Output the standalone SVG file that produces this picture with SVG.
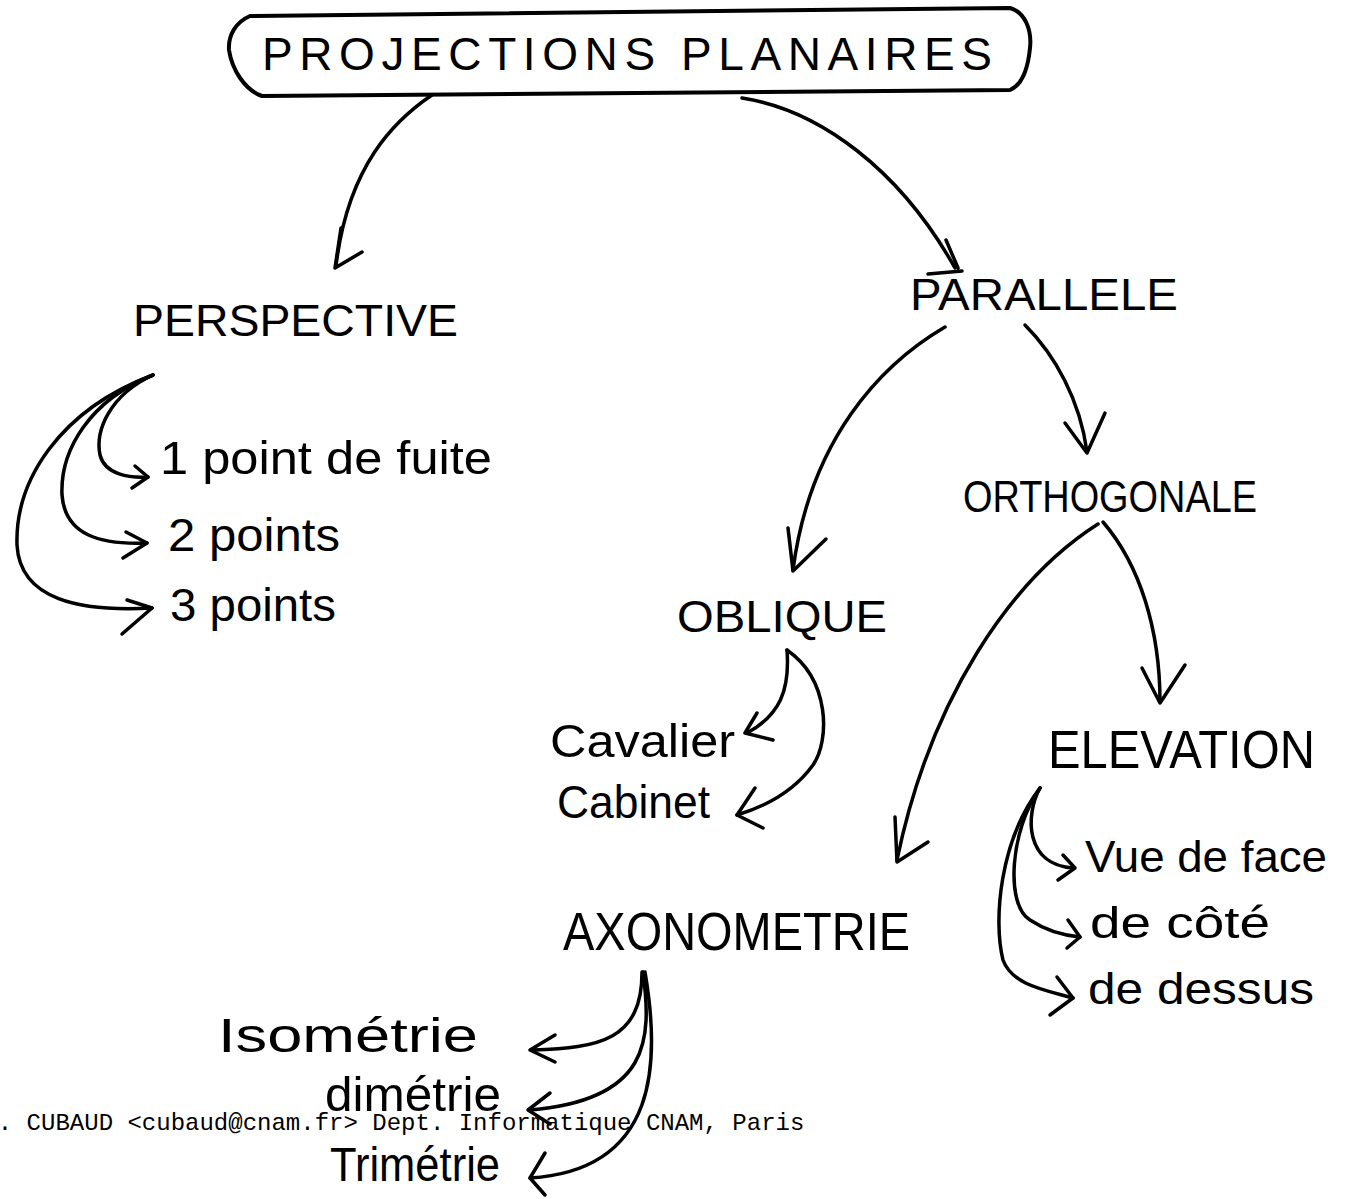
<svg xmlns="http://www.w3.org/2000/svg" width="1345" height="1199" viewBox="0 0 1345 1199">
<style>
.bg{fill:#fff}
.hand{font-family:"Liberation Sans","DejaVu Sans",sans-serif;fill:#000}
.mono{font-family:"Liberation Mono","DejaVu Sans Mono",monospace;font-size:24px;fill:#000}
.ln{fill:none;stroke:#000;stroke-width:3.5;stroke-linecap:round;stroke-linejoin:round}
.box{fill:none;stroke:#000;stroke-width:4;stroke-linejoin:round}
</style>
<rect class="bg" x="0" y="0" width="1345" height="1199"/>

<g id="connectors">
  <path class="ln" d="M432,95 C395,120 348,165 336,266"/>
  <path class="ln" d="M341,228 L335,268 L362,252"/>
  <path class="ln" d="M742,98 C820,110 900,170 955,268"/>
  <path class="ln" d="M946,240 L958,268 M928,274 L962,271"/>
  <path class="ln" d="M945,327 C880,365 810,440 793,570"/>
  <path class="ln" d="M788,528 L793,571 L826,539"/>
  <path class="ln" d="M1025,325 C1055,355 1080,400 1087,452"/>
  <path class="ln" d="M1065,423 L1087,453 L1105,413"/>
  <path class="ln" d="M1098,524 C1010,580 930,700 897,860"/>
  <path class="ln" d="M895,817 L897,862 L928,842"/>
  <path class="ln" d="M1103,522 C1140,565 1160,630 1160,702"/>
  <path class="ln" d="M1142,668 L1160,703 L1185,665"/>
  <path class="ln" d="M153,375 C110,395 95,430 100,455 C105,475 130,478 148,477"/>
  <path class="ln" d="M135,466 L148,477 L132,488"/>
  <path class="ln" d="M153,375 C90,400 60,450 62,495 C65,535 100,545 147,543"/>
  <path class="ln" d="M126,532 L147,543 L123,558"/>
  <path class="ln" d="M153,375 C60,410 15,480 17,545 C20,600 80,612 152,608"/>
  <path class="ln" d="M127,600 L152,608 L122,634"/>
  <path class="ln" d="M787,650 C790,690 780,715 747,733"/>
  <path class="ln" d="M757,713 L745,733 L773,740"/>
  <path class="ln" d="M787,650 C830,680 830,740 813,765 C795,790 770,805 737,815"/>
  <path class="ln" d="M755,788 L737,815 L763,828"/>
  <path class="ln" d="M1040,788 C1025,815 1025,865 1073,868"/>
  <path class="ln" d="M1063,855 L1075,868 L1058,880"/>
  <path class="ln" d="M1040,788 C1010,830 1005,905 1030,920 C1045,930 1060,935 1080,937"/>
  <path class="ln" d="M1068,920 L1080,937 L1067,948"/>
  <path class="ln" d="M1040,788 C1000,840 993,920 1003,960 C1012,985 1045,990 1073,998"/>
  <path class="ln" d="M1057,977 L1073,998 L1050,1015"/>
  <path class="ln" d="M642,972 C642,1040 600,1048 532,1050"/>
  <path class="ln" d="M555,1035 L530,1050 L555,1062"/>
  <path class="ln" d="M643,972 C652,1040 650,1100 530,1110"/>
  <path class="ln" d="M550,1093 L528,1110 L550,1124"/>
  <path class="ln" d="M645,972 C660,1060 660,1170 530,1178"/>
  <path class="ln" d="M545,1153 L530,1178 L545,1195"/>
</g>

<g id="n-projections">
  <path class="box" d="M250,16 L1010,8 C1025,12 1032,30 1030,48 C1028,68 1022,85 1010,90 L262,96 C245,90 232,70 229,50 C228,35 236,22 250,16 Z"/>
  <text class="hand" x="262" y="70" font-size="46" textLength="730" lengthAdjust="spacing">PROJECTIONS PLANAIRES</text>
</g>
<g id="n-perspective">
  <text class="hand" x="133" y="336" font-size="44" textLength="325" lengthAdjust="spacingAndGlyphs">PERSPECTIVE</text>
</g>
<g id="n-parallele">
  <text class="hand" x="910" y="310" font-size="45" textLength="268" lengthAdjust="spacingAndGlyphs">PARALLELE</text>
</g>
<g id="n-orthogonale">
  <text class="hand" x="963" y="512" font-size="44" textLength="294" lengthAdjust="spacingAndGlyphs">ORTHOGONALE</text>
</g>
<g id="n-oblique">
  <text class="hand" x="677" y="632" font-size="44" textLength="210" lengthAdjust="spacingAndGlyphs">OBLIQUE</text>
</g>
<g id="n-elevation">
  <text class="hand" x="1048" y="768" font-size="53" textLength="267" lengthAdjust="spacingAndGlyphs">ELEVATION</text>
</g>
<g id="n-axonometrie">
  <text class="hand" x="563" y="950" font-size="54" textLength="347" lengthAdjust="spacingAndGlyphs">AXONOMETRIE</text>
</g>
<g id="n-1point">
  <text class="hand" x="160" y="474" font-size="46" textLength="332" lengthAdjust="spacingAndGlyphs">1 point de fuite</text>
</g>
<g id="n-2points">
  <text class="hand" x="168" y="551" font-size="46" textLength="172" lengthAdjust="spacingAndGlyphs">2 points</text>
</g>
<g id="n-3points">
  <text class="hand" x="170" y="621" font-size="46" textLength="166" lengthAdjust="spacingAndGlyphs">3 points</text>
</g>
<g id="n-cavalier">
  <text class="hand" x="550" y="757" font-size="46" textLength="185" lengthAdjust="spacingAndGlyphs">Cavalier</text>
</g>
<g id="n-cabinet">
  <text class="hand" x="557" y="818" font-size="46" textLength="153" lengthAdjust="spacingAndGlyphs">Cabinet</text>
</g>
<g id="n-vuedeface">
  <text class="hand" x="1085" y="872" font-size="44" textLength="242" lengthAdjust="spacingAndGlyphs">Vue de face</text>
</g>
<g id="n-decote">
  <text class="hand" x="1090" y="938" font-size="44" textLength="180" lengthAdjust="spacingAndGlyphs">de côté</text>
</g>
<g id="n-dedessus">
  <text class="hand" x="1088" y="1004" font-size="44" textLength="226" lengthAdjust="spacingAndGlyphs">de dessus</text>
</g>
<g id="n-isometrie">
  <text class="hand" x="218" y="1052" font-size="48" textLength="260" lengthAdjust="spacingAndGlyphs">Isométrie</text>
</g>
<g id="n-dimetrie">
  <text class="hand" x="325" y="1111" font-size="48" textLength="176" lengthAdjust="spacingAndGlyphs">dimétrie</text>
</g>
<g id="n-trimetrie">
  <text class="hand" x="330" y="1181" font-size="48" textLength="170" lengthAdjust="spacingAndGlyphs">Trimétrie</text>
</g>
<g id="footer">
  <text class="mono" x="-16.6" y="1130">P. CUBAUD &lt;cubaud@cnam.fr&gt; Dept. Informatique CNAM, Paris</text>
</g>
</svg>
